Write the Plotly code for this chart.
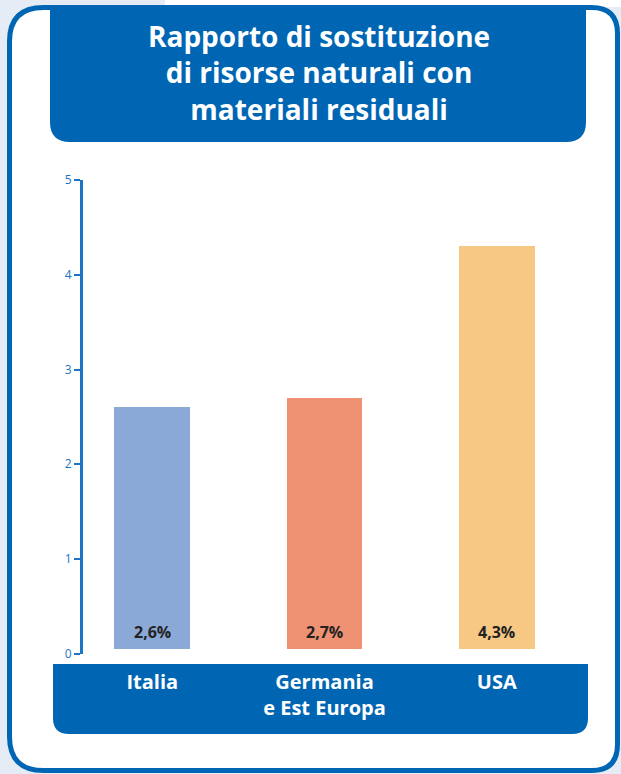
import plotly.graph_objects as go

# Chart data
categories = ["Italia", "Germania<br>e Est Europa", "USA"]
values = [2.6, 2.7, 4.3]
value_labels = ["2,6%", "2,7%", "4,3%"]
y_ticks = [0, 1, 2, 3, 4, 5]
title_lines = ["Rapporto di sostituzione", "di risorse naturali con", "materiali residuali"]

W, H = 621, 774
BLUE = "#0066b3"
AXIS_BLUE = "#1b74c4"
BG_BLUE = "#e5ecf6"
bar_colors = ["#8ba9d7", "#ef9273", "#f7c784"]
BAR_BASE = 0.05  # bars start slightly above the axis origin


def px(x, y):
    """Pixel position -> paper coordinates."""
    return x / W, 1 - y / H


def rounded_path(x0, y0, x1, y1, r_tl=0, r_tr=0, r_br=0, r_bl=0):
    """SVG path (paper coords) for a rectangle with rounded corners."""
    pts = []

    def p(x, y):
        a, b = px(x, y)
        return f"{a:.5f},{b:.5f}"

    pts.append(f"M {p(x0 + r_tl, y0)}")
    pts.append(f"L {p(x1 - r_tr, y0)}")
    if r_tr:
        pts.append(f"Q {p(x1, y0)} {p(x1, y0 + r_tr)}")
    pts.append(f"L {p(x1, y1 - r_br)}")
    if r_br:
        pts.append(f"Q {p(x1, y1)} {p(x1 - r_br, y1)}")
    pts.append(f"L {p(x0 + r_bl, y1)}")
    if r_bl:
        pts.append(f"Q {p(x0, y1)} {p(x0, y1 - r_bl)}")
    pts.append(f"L {p(x0, y0 + r_tl)}")
    if r_tl:
        pts.append(f"Q {p(x0, y0)} {p(x0 + r_tl, y0)}")
    pts.append("Z")
    return " ".join(pts)


fig = go.Figure()

fig.add_trace(go.Bar(
    x=categories,
    y=[v - BAR_BASE for v in values],
    base=BAR_BASE,
    width=0.44,
    marker=dict(color=bar_colors, line=dict(width=0)),
    hoverinfo="skip",
    showlegend=False,
))

shapes = [
    # white strip along the top edge of the page
    dict(type="rect", xref="paper", yref="paper",
         x0=165 / W, x1=1, y0=1 - 7 / H, y1=1,
         fillcolor="white", line=dict(width=0), layer="below"),
    # white panel with blue rounded border
    dict(type="path", xref="paper", yref="paper",
         path=rounded_path(9.5, 7.5, 617.5, 770.5, 34, 26, 26, 34),
         fillcolor="white", line=dict(color=BLUE, width=5), layer="below"),
    # title box
    dict(type="path", xref="paper", yref="paper",
         path=rounded_path(50, 6, 586, 142, 0, 0, 20, 20),
         fillcolor=BLUE, line=dict(width=0), layer="below"),
    # category band
    dict(type="path", xref="paper", yref="paper",
         path=rounded_path(53, 664, 588, 734, 0, 0, 16, 16),
         fillcolor=BLUE, line=dict(width=0), layer="below"),
]

annotations = [
    dict(xref="paper", yref="paper", x=319 / W, y=1 - 73 / H,
         text="<br>".join(title_lines), showarrow=False,
         xanchor="center", yanchor="middle", align="center",
         font=dict(family="Open Sans", size=28, color="white", weight=700)),
]
for cat, lab in zip(categories, value_labels):
    annotations.append(dict(
        x=cat, y=0.23, xref="x", yref="y", text=lab, showarrow=False,
        xanchor="center", yanchor="middle",
        font=dict(family="Open Sans", size=16, color="#222222", weight=700),
    ))

y_bottom = 1 - 653.5 / H
y_top = 1 - 180.2 / H

fig.update_layout(
    width=W, height=H,
    margin=dict(l=0, r=0, t=0, b=0, pad=0, autoexpand=False),
    paper_bgcolor=BG_BLUE,
    plot_bgcolor="rgba(0,0,0,0)",
    shapes=shapes,
    annotations=annotations,
    bargap=0,
    xaxis=dict(
        domain=[66.1 / W, 582.9 / W],
        type="category",
        showgrid=False, zeroline=False, showline=False, ticks="",
        tickfont=dict(family="Open Sans", size=20, color="white", weight=700),
        ticklabelstandoff=14,
        automargin=False,
        fixedrange=True,
    ),
    yaxis=dict(
        domain=[y_bottom, y_top],
        range=[0, 5],
        anchor="free",
        position=81 / W,
        tickvals=y_ticks,
        ticktext=[str(t) for t in y_ticks],
        showgrid=False, zeroline=False,
        showline=True, linecolor=AXIS_BLUE, linewidth=3,
        ticks="outside", ticklen=6, tickwidth=2, tickcolor=AXIS_BLUE,
        tickfont=dict(family="Open Sans", size=12, color=AXIS_BLUE),
        automargin=False,
        fixedrange=True,
    ),
)

fig.write_html("out.html")
